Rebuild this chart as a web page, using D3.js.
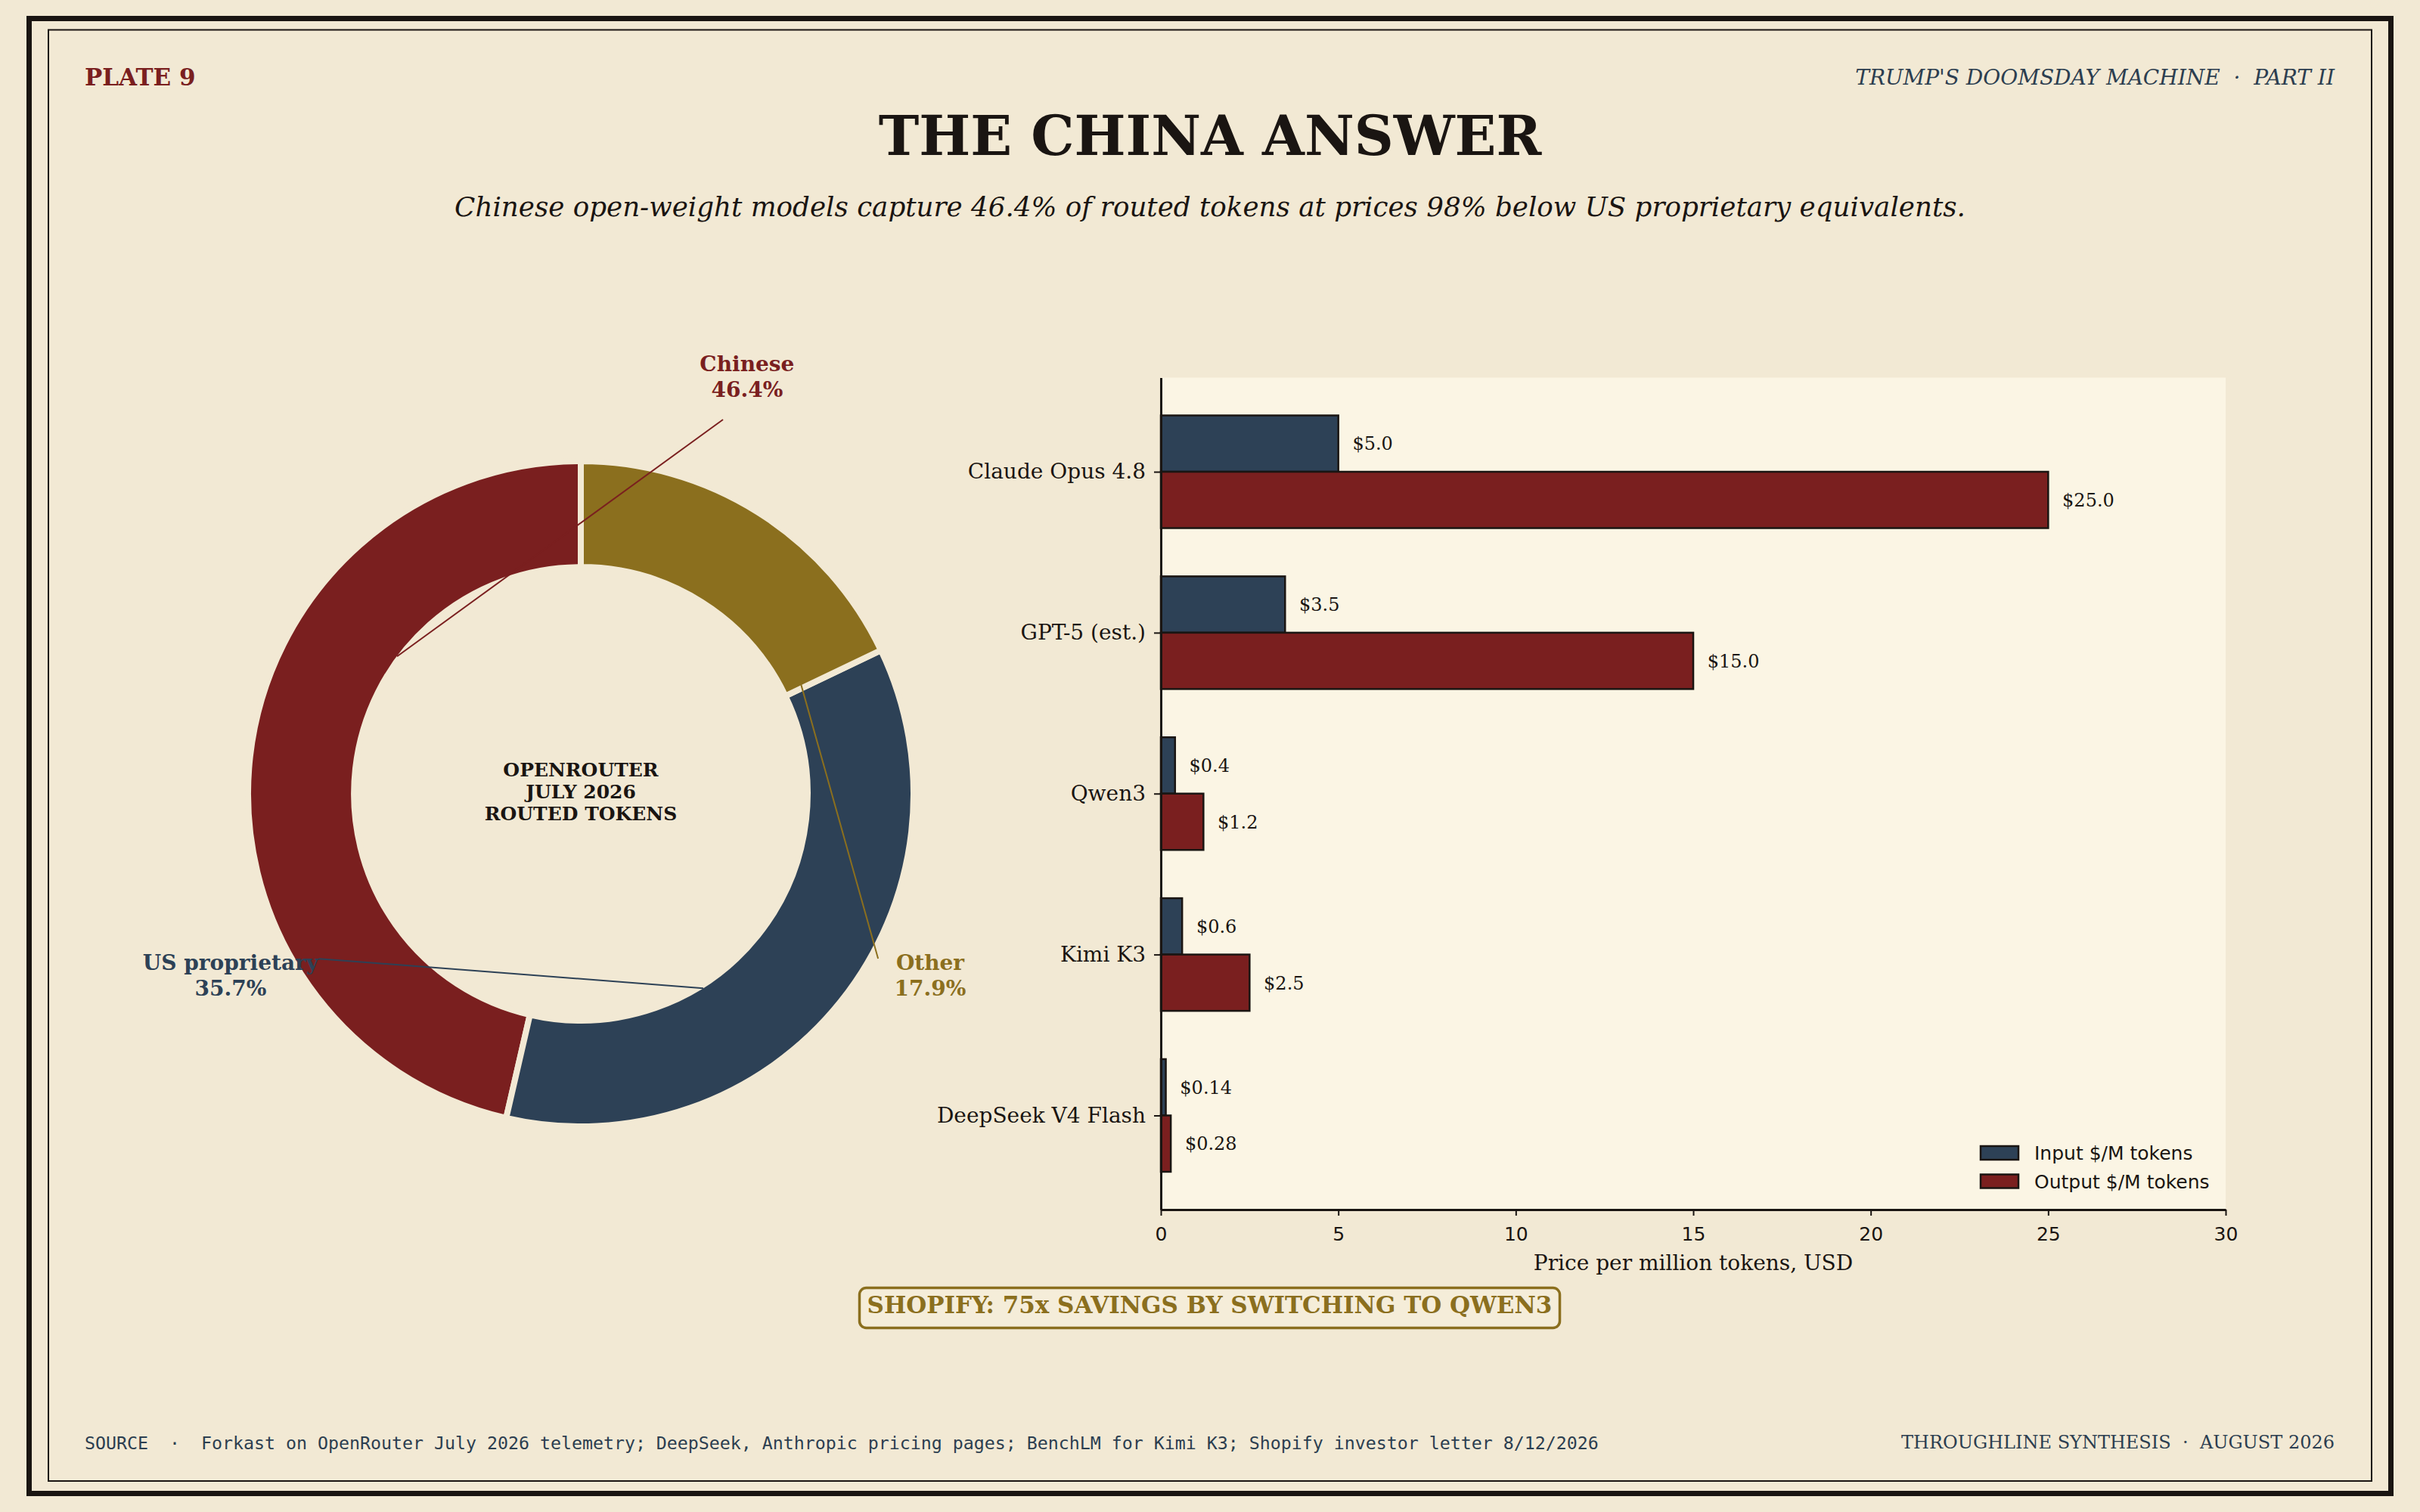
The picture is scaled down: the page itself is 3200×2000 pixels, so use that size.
<!DOCTYPE html>
<html><head><meta charset="utf-8">
<script src="https://cdn.jsdelivr.net/npm/d3@7"></script>
<style>html,body{margin:0;padding:0;background:#f2e9d4;} svg{display:block}</style>
</head><body>
<svg id="chart" width="3200" height="2000"></svg>
<script>
// ---------------- DATA ----------------
const shareCategories = ["Chinese", "US proprietary", "Other"];
const shareValues = [46.4, 35.7, 17.9];
const centerLines = ["OPENROUTER", "JULY 2026", "ROUTED TOKENS"];

const models = ["Claude Opus 4.8", "GPT-5 (est.)", "Qwen3", "Kimi K3", "DeepSeek V4 Flash"];
const inputPrices = [5.0, 3.5, 0.4, 0.6, 0.14];
const outputPrices = [25.0, 15.0, 1.2, 2.5, 0.28];
const seriesNames = ["Input $/M tokens", "Output $/M tokens"];
const xTicks = [0, 5, 10, 15, 20, 25, 30];

// ---------------- STYLE / LAYOUT ----------------
const C = {bg:"#f2e9d4", panel:"#fbf5e4", ink:"#1a1512", red:"#7a1f1f", navy:"#2d4156",
           gold:"#8b6f1e", slate:"#2c3e50", box:"#f5edd9"};
const SERIF = "'DejaVu Serif', serif", SANS = "'DejaVu Sans', sans-serif", MONO = "'DejaVu Sans Mono', monospace";
const sliceColor = {"Chinese": C.red, "US proprietary": C.navy, "Other": C.gold};
// label layout in polar terms (degrees ccw from +x, radius relative to outer radius)
const labelLayout = {
  "Chinese":        {ta: 68.3,  tr: 1.364, la: 69.2,  lr: 1.2145, ea: 143.2, er: 0.696},
  "US proprietary": {ta: 207.3, tr: 1.195, la: 212.2, lr: 0.939,  ea: 302.2, er: 0.697},
  "Other":          {ta: 332.65,tr: 1.193, la: 331.0, lr: 1.031,  ea: 26.5,  er: 0.746}
};

const svg = d3.select("#chart");
svg.append("rect").attr("width", 3200).attr("height", 2000).attr("fill", C.bg);
// frames
svg.append("rect").attr("x", 38.5).attr("y", 24.5).attr("width", 3123).attr("height", 1951)
  .attr("fill", "none").attr("stroke", C.ink).attr("stroke-width", 7);
svg.append("rect").attr("x", 64).attr("y", 39.5).attr("width", 3072).attr("height", 1919.5)
  .attr("fill", "none").attr("stroke", C.ink).attr("stroke-width", 2);

// header
svg.append("text").attr("x", 112).attr("y", 113).attr("font-family", SERIF).attr("font-weight", "bold")
  .attr("font-size", 31).attr("fill", C.red).text("PLATE 9");
svg.append("text").attr("x", 3087).attr("y", 112).attr("text-anchor", "end").attr("font-family", SERIF)
  .attr("font-style", "italic").attr("font-size", 28).attr("fill", C.slate)
  .attr("xml:space", "preserve").style("white-space", "pre").text("TRUMP'S DOOMSDAY MACHINE  \u00b7  PART II");
svg.append("text").attr("x", 1600).attr("y", 205).attr("text-anchor", "middle").attr("font-family", SERIF)
  .attr("font-weight", "bold").attr("font-size", 72).attr("fill", C.ink).text("THE CHINA ANSWER");
svg.append("text").attr("x", 1600).attr("y", 286).attr("text-anchor", "middle").attr("font-family", SERIF)
  .attr("font-style", "italic").attr("font-size", 35.7).attr("fill", C.ink)
  .text("Chinese open-weight models capture 46.4% of routed tokens at prices 98% below US proprietary equivalents.");

// ---------------- DONUT ----------------
const cx = 768, cy = 1050, R = 436, innerFrac = 0.697;
const rad = d3.scaleLinear().domain([0, 1]).range([0, R]);
const polar = (deg, rr) => [cx + rad(rr) * Math.cos(deg * Math.PI / 180), cy - rad(rr) * Math.sin(deg * Math.PI / 180)];
const pie = d3.pie().sort(null).value(d => d.v).startAngle(0).endAngle(-2 * Math.PI);
const pieData = pie(shareCategories.map((c, i) => ({c, v: shareValues[i]})));
const gap = 8;
const arc = d3.arc().innerRadius(rad(innerFrac) - gap / 2).outerRadius(rad(1) + gap / 2);
const gp = svg.append("g").attr("transform", `translate(${cx},${cy})`);
gp.selectAll("path").data(pieData).join("path")
  .attr("d", arc).attr("fill", d => sliceColor[d.data.c])
  .attr("stroke", C.bg).attr("stroke-width", gap).attr("stroke-linejoin", "miter");

// center text
centerLines.forEach((t, i) => {
  svg.append("text").attr("x", cx).attr("y", cy - 23 + i * 29).attr("text-anchor", "middle")
    .attr("font-family", SERIF).attr("font-weight", "bold").attr("font-size", 25).attr("fill", C.ink).text(t);
});

// labels + leader lines
shareCategories.forEach((c, i) => {
  const L = labelLayout[c];
  const [sx, sy] = polar(L.la, L.lr), [ex, ey] = polar(L.ea, L.er);
  svg.append("line").attr("x1", sx).attr("y1", sy).attr("x2", ex).attr("y2", ey)
    .attr("stroke", sliceColor[c]).attr("stroke-width", 2);
  const [tx, ty] = polar(L.ta, L.tr);
  const t = svg.append("text").attr("text-anchor", "middle").attr("font-family", SERIF)
    .attr("font-weight", "bold").attr("font-size", 28).attr("fill", sliceColor[c]);
  t.append("tspan").attr("x", tx).attr("y", ty - 6).text(c);
  t.append("tspan").attr("x", tx).attr("y", ty + 28).text(shareValues[i].toFixed(1) + "%");
});

// ---------------- BARS ----------------
const x = d3.scaleLinear().domain([0, 30]).range([1535, 2943]);
const barH = 0.35;
const y = d3.scaleLinear().domain([-barH - 0.235, models.length - 1 + barH + 0.235]).range([499.5, 1600]);
svg.append("rect").attr("x", x(0)).attr("y", y.range()[0]).attr("width", x(30) - x(0))
  .attr("height", y.range()[1] - y.range()[0]).attr("fill", C.panel);

const fmt = v => "$" + (Math.abs(Math.round(v * 10) - v * 10) < 1e-9 ? v.toFixed(1) : v.toFixed(2));
const series = [
  {name: seriesNames[0], vals: inputPrices, color: C.navy, off: -barH},
  {name: seriesNames[1], vals: outputPrices, color: C.red, off: 0}
];
const gb = svg.append("g");
series.forEach(s => {
  gb.selectAll(null).data(s.vals).join("rect")
    .attr("x", x(0)).attr("y", (v, i) => y(i + s.off))
    .attr("width", v => x(v) - x(0)).attr("height", (v, i) => y(i + s.off + barH) - y(i + s.off))
    .attr("fill", s.color).attr("stroke", C.ink).attr("stroke-width", 2.5);
  gb.selectAll(null).data(s.vals).join("text")
    .attr("x", v => x(v + 0.4)).attr("y", (v, i) => y(i + s.off + barH / 2)).attr("dy", "0.36em")
    .attr("font-family", SERIF).attr("font-size", 24).attr("fill", C.ink).text(fmt);
});

// axes
const yAxis = svg.append("g").attr("transform", `translate(${x(0)},0)`)
  .call(d3.axisLeft(y).tickValues(d3.range(models.length)).tickFormat(i => models[i])
    .tickSize(9).tickPadding(11).tickSizeOuter(0));
yAxis.select(".domain").attr("stroke", C.ink).attr("stroke-width", 3);
yAxis.selectAll(".tick line").attr("stroke", C.ink).attr("stroke-width", 2);
yAxis.selectAll(".tick text").attr("font-family", SERIF).attr("font-size", 28).attr("fill", C.ink);

const xAxis = svg.append("g").attr("transform", `translate(0,${y.range()[1]})`)
  .call(d3.axisBottom(x).tickValues(xTicks).tickFormat(d3.format("d")).tickSize(8).tickPadding(15).tickSizeOuter(0));
xAxis.select(".domain").attr("stroke", C.ink).attr("stroke-width", 3);
xAxis.selectAll(".tick line").attr("stroke", C.ink).attr("stroke-width", 2);
xAxis.selectAll(".tick text").attr("font-family", SANS).attr("font-size", 25).attr("fill", C.ink);

svg.append("text").attr("x", (x(0) + x(30)) / 2).attr("y", 1680).attr("text-anchor", "middle")
  .attr("font-family", SERIF).attr("font-size", 28).attr("fill", C.ink).text("Price per million tokens, USD");

// legend
const lg = svg.append("g").attr("transform", "translate(2619,1525)");
series.forEach((s, i) => {
  lg.append("rect").attr("x", 0).attr("y", i * 37.5 - 9).attr("width", 50).attr("height", 18)
    .attr("fill", s.color).attr("stroke", C.ink).attr("stroke-width", 2.5);
  lg.append("text").attr("x", 71).attr("y", i * 37.5).attr("dy", "0.36em").attr("font-family", SANS)
    .attr("font-size", 25).attr("fill", C.ink).text(s.name);
});

// callout
svg.append("rect").attr("x", 1136.5).attr("y", 1703.5).attr("width", 926).attr("height", 53)
  .attr("rx", 9).attr("fill", C.box).attr("stroke", C.gold).attr("stroke-width", 3.5);
svg.append("text").attr("x", 1599.5).attr("y", 1737).attr("text-anchor", "middle").attr("font-family", SERIF)
  .attr("font-weight", "bold").attr("font-size", 31).attr("fill", C.gold)
  .text("SHOPIFY: 75x SAVINGS BY SWITCHING TO QWEN3");

// footer
svg.append("text").attr("x", 112).attr("y", 1917).attr("font-family", MONO).attr("font-size", 23.25)
  .attr("fill", C.slate).attr("xml:space", "preserve").style("white-space", "pre")
  .text("SOURCE  \u00b7  Forkast on OpenRouter July 2026 telemetry; DeepSeek, Anthropic pricing pages; BenchLM for Kimi K3; Shopify investor letter 8/12/2026");
svg.append("text").attr("x", 3087).attr("y", 1916).attr("text-anchor", "end").attr("font-family", SERIF)
  .attr("font-size", 24).attr("fill", C.slate).attr("xml:space", "preserve").style("white-space", "pre")
  .text("THROUGHLINE SYNTHESIS  \u00b7  AUGUST 2026");
</script>
</body></html>
